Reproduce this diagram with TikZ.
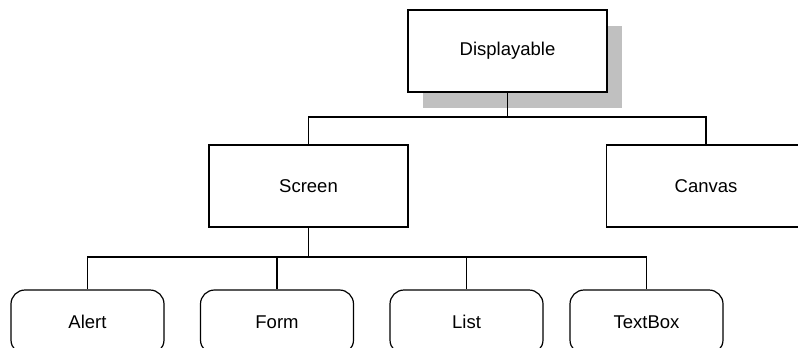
\documentclass[tikz,border=0pt]{standalone}
\usepackage{fontspec}
\setmainfont{Liberation Sans}
\usetikzlibrary{shadows}
\definecolor{shadowgray}{HTML}{C0C0C0}

\begin{document}
\begin{tikzpicture}[x=1pt, y=-1pt, line width=1.2pt,
  every node/.style={font=\fontsize{18.5}{22}\selectfont},
  classbox/.style={draw, fill=white, rectangle, minimum width=199pt, minimum height=82pt, inner sep=0pt},
  leafbox/.style={draw, fill=white, rectangle, rounded corners=14pt, minimum width=153pt, minimum height=64pt, inner sep=0pt}]
\useasboundingbox (0,0) rectangle (798,348);

% Define the top node with its shadow
\node[classbox, drop shadow={shadow xshift=15pt, shadow yshift=-16pt, fill=shadowgray, opacity=1}] (disp) at (507.5,51) {Displayable};

% Second level
\node[classbox] (screen) at (308.5,186) {Screen};
\node[classbox] (canvas) at (706,186) {Canvas};

% Leaf nodes
\node[leafbox] (alert) at (87.5,322) {Alert};
\node[leafbox] (form) at (277,322) {Form};
\node[leafbox] (list) at (466.5,322) {List};
\node[leafbox] (textbox) at (646.5,322) {TextBox};

% Bus lines
\coordinate (bus1) at (0,117);
\coordinate (bus2) at (0,257);

\draw (disp.south) -- (disp.south |- bus1) -| (screen.north);
\draw (disp.south |- bus1) -| (canvas.north);

\draw (screen.south) -- (screen.south |- bus2) -| (alert.north);
\draw (screen.south |- bus2) -| (form.north);
\draw (screen.south |- bus2) -| (list.north);
\draw (screen.south |- bus2) -| (textbox.north);

\end{tikzpicture}
\end{document}
